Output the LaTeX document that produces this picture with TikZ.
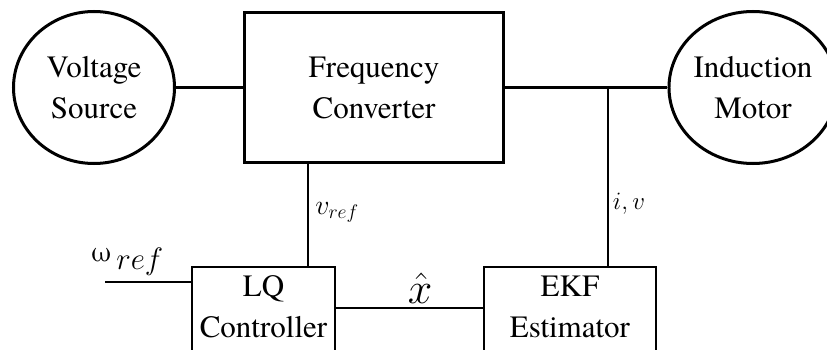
\RequirePackage{fix-cm}
\documentclass[tikz,border=0pt]{standalone}
\usepackage{fontspec}
\setmainfont{texgyretermes}[Extension=.otf,UprightFont=*-regular,BoldFont=*-bold,ItalicFont=*-italic,BoldItalicFont=*-bolditalic]
\usetikzlibrary{shapes.geometric,positioning}
\tikzset{
  unitcirc/.style={ellipse,draw,line width=3pt,minimum width=161pt,minimum height=152pt,inner sep=0pt},
  bigbox/.style={rectangle,draw,line width=3pt,minimum width=259pt,minimum height=150pt,inner sep=0pt},
  smallbox/.style={rectangle,draw,line width=1.2pt,inner sep=0pt},
  nametext/.style={font=\fontsize{31}{41}\selectfont,align=center,inner sep=0pt},
  sigtext/.style={inner sep=0pt},
  heavy/.style={line width=2.5pt},
  thin/.style={line width=1.2pt}
}
\begin{document}
\begin{tikzpicture}[x=1pt,y=-1pt]
\useasboundingbox(0,0)rectangle(827,350);
\clip(0,0)rectangle(827,350);
\node[unitcirc,nametext](vsrc)at(94,87.5){Voltage\\Source};
\node[bigbox,nametext](conv)at(374,87.5){Frequency\\Converter};
\node[unitcirc,nametext](motor)at(753,87.5){Induction\\Motor};
\node[smallbox,minimum width=143pt,minimum height=100pt](lqc)at(263.5,317){};
\node[nametext,below=9pt of lqc.north](lqname){LQ\\Controller};
\node[smallbox,minimum width=172pt,minimum height=100pt](ekf)at(570,317){};
\node[nametext,below=9pt of ekf.north](ekfname){EKF\\Estimator};
\coordinate(tap)at(608,87.5);
\coordinate(vout)at(308,162.5);
\coordinate(wref)at(105,282);
\draw[heavy](vsrc.east)--(conv.west);
\draw[heavy](conv.east)--(motor.west);
\draw[thin](tap)--(tap|-ekf.north);
\draw[thin](vout)--(vout|-lqc.north);
\draw[thin](wref)--(wref-|lqc.west);
\draw[thin]([yshift=9pt]lqc.east)--([yshift=9pt]ekf.west);
\node[sigtext,font=\fontsize{28}{28}\selectfont](vreflabel)at(337,212){\(v_{ref}\)};
\node[sigtext,font=\fontsize{25}{25}\selectfont](ivlabel)at(629,204){\(i,v\)};
\node[sigtext,anchor=base west](wreflabel)at(91,261){{\fontsize{29}{29}\selectfont ω}\hspace{5pt}\raisebox{-8pt}{\fontsize{31}{31}\selectfont\(ref\)}};
\node[sigtext,font=\fontsize{44}{44}\selectfont](xhatlabel)at(420,288){\(\hat{x}\)};
\end{tikzpicture}
\end{document}
